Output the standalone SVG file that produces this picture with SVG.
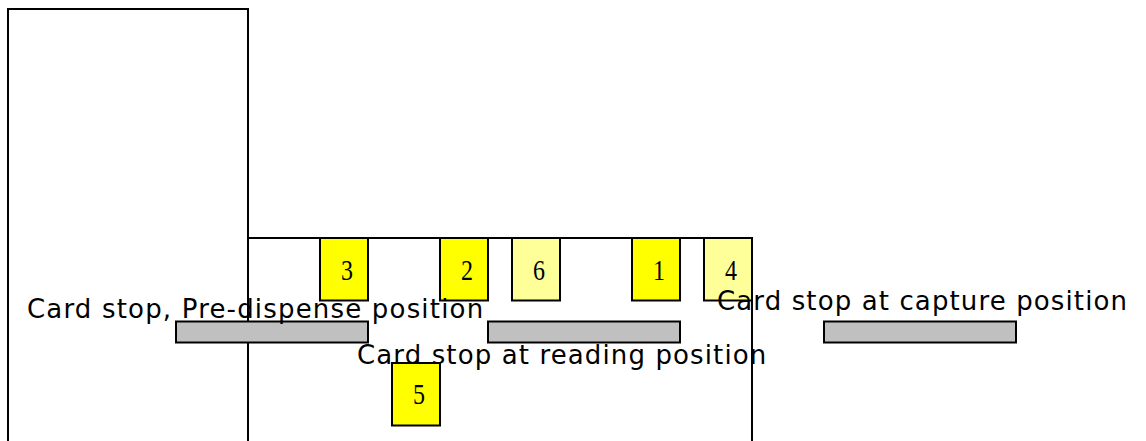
<svg xmlns="http://www.w3.org/2000/svg" width="1146" height="441" viewBox="0 0 1146 441">
<style>
.o{fill:none;stroke:#000;stroke-width:2}
.y{fill:#ffff00;stroke:#000;stroke-width:2}
.p{fill:#ffff99;stroke:#000;stroke-width:2}
.s{fill:#c0c0c0;stroke:#000;stroke-width:2}
.n{font-family:"Liberation Serif",serif;font-size:30px;text-anchor:middle;fill:#000}
.l{font-family:"DejaVu Sans","Liberation Sans",sans-serif;font-size:26px;letter-spacing:1.12px;fill:#000}
</style>
<rect width="1146" height="441" fill="#fff"/>
<g id="housing"><rect class="o" x="8" y="9" width="240" height="460"/></g>
<g id="channel"><rect class="o" x="248" y="238" width="504" height="240"/></g>
<g id="stop-predispense"><rect class="s" x="176" y="321.500" width="192" height="21"/></g>
<g id="stop-reading"><rect class="s" x="488" y="321.500" width="192" height="21"/></g>
<g id="stop-capture"><rect class="s" x="824" y="321.500" width="192" height="21"/></g>
<g id="card-3"><rect class="y" x="320" y="238" width="48" height="62.500"/><text class="n" x="347" y="280" textLength="12" lengthAdjust="spacingAndGlyphs">3</text></g>
<g id="card-2"><rect class="y" x="440" y="238" width="48" height="62.500"/><text class="n" x="467" y="280" textLength="12" lengthAdjust="spacingAndGlyphs">2</text></g>
<g id="card-6"><rect class="p" x="512" y="238" width="48" height="62.500"/><text class="n" x="539" y="280" textLength="12" lengthAdjust="spacingAndGlyphs">6</text></g>
<g id="card-1"><rect class="y" x="632" y="238" width="48" height="62.500"/><text class="n" x="659" y="280" textLength="12" lengthAdjust="spacingAndGlyphs">1</text></g>
<g id="card-4"><rect class="p" x="704" y="238" width="48" height="62.500"/><text class="n" x="731" y="280" textLength="12" lengthAdjust="spacingAndGlyphs">4</text></g>
<g id="card-5"><rect class="y" x="392" y="363" width="48" height="62.500"/><text class="n" x="419" y="404" textLength="12" lengthAdjust="spacingAndGlyphs">5</text></g>
<g id="labels">
<text class="l" x="27" y="318" style="letter-spacing:1.18px">Card stop, Pre-dispense position</text>
<text class="l" x="357" y="364">Card stop at reading position</text>
<text class="l" x="717" y="310">Card stop at capture position</text>
</g>
<g id="connectors"/>
</svg>
